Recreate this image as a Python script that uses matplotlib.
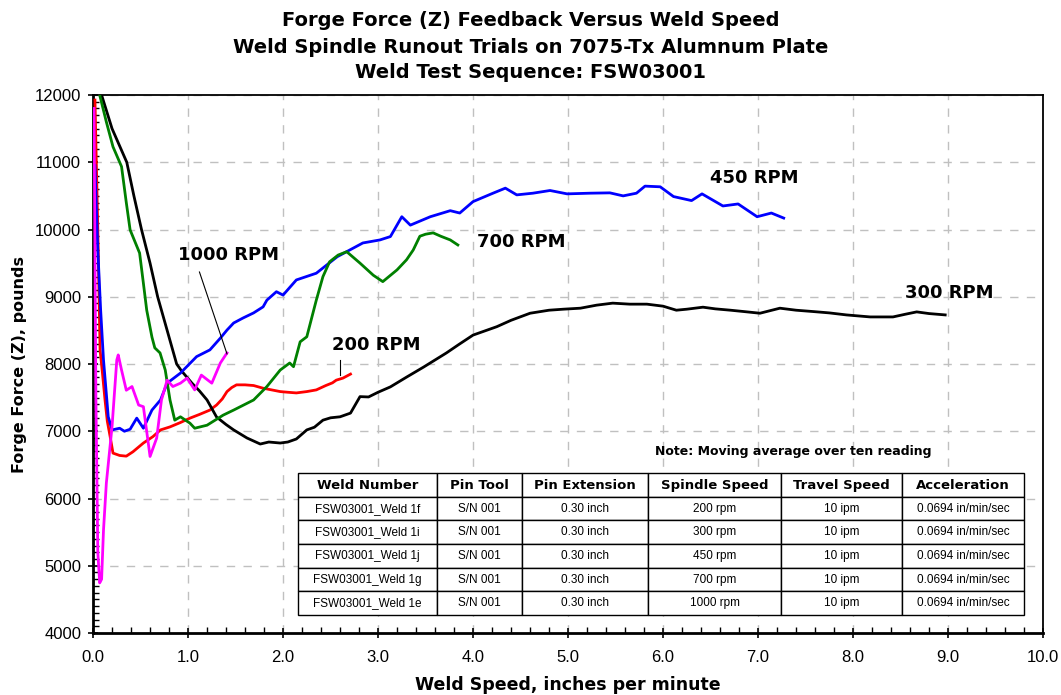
import numpy as np
import matplotlib.pyplot as plt
from matplotlib.ticker import MultipleLocator

plt.rcParams['font.family'] = ['Liberation Sans', 'DejaVu Sans']
WIDE = ['DejaVu Sans']

# 200 RPM (FSW03001_Weld 1f)
x_200 = [0.02, 0.05, 0.074, 0.10, 0.126, 0.15, 0.18, 0.21, 0.28, 0.35, 0.42, 0.53, 0.63, 0.71, 0.81,
         0.92, 1.02, 1.12, 1.23, 1.30, 1.36, 1.41, 1.46, 1.51, 1.60, 1.69, 1.79, 1.97, 2.05, 2.14, 2.25,
         2.35, 2.45, 2.52, 2.56, 2.63, 2.71]
y_200 = [11925, 10000, 8210, 7850, 7465, 7150, 6920, 6675, 6640, 6630, 6695, 6825, 6920, 7020, 7065,
         7130, 7195, 7250, 7315, 7390, 7480, 7590, 7650, 7690, 7690, 7680, 7640, 7590, 7580, 7570, 7590,
         7615, 7680, 7720, 7760, 7790, 7850]

# 300 RPM (FSW03001_Weld 1i)
x_300 = [0.09, 0.2, 0.355, 0.43, 0.51, 0.60, 0.68, 0.78, 0.88, 0.93, 1.04, 1.12, 1.20, 1.30, 1.40,
         1.48, 1.62, 1.76, 1.85, 1.97, 2.05, 2.14, 2.25, 2.33, 2.42, 2.50, 2.60, 2.71, 2.81, 2.90, 3.00,
         3.13, 3.30, 3.48, 3.60, 3.72, 3.85, 4.00, 4.25, 4.40, 4.60, 4.80, 4.95, 5.13, 5.30, 5.47, 5.65,
         5.83, 6.00, 6.14, 6.25, 6.42, 6.55, 6.71, 6.85, 7.02, 7.23, 7.40, 7.58, 7.75, 7.93, 8.18, 8.42,
         8.55, 8.67, 8.80, 8.97]
y_300 = [12000, 11500, 11000, 10500, 10000, 9500, 9000, 8500, 8000, 7900, 7717, 7600, 7465, 7212, 7100,
         7020, 6900, 6810, 6840, 6825, 6840, 6885, 7020, 7060, 7165, 7200, 7215, 7270, 7515, 7510, 7580,
         7660, 7805, 7955, 8060, 8165, 8290, 8430, 8555, 8650, 8755, 8800, 8815, 8830, 8875, 8905, 8890,
         8890, 8860, 8800, 8815, 8845, 8820, 8800, 8780, 8755, 8830, 8800, 8780, 8760, 8730, 8700, 8700,
         8740, 8775, 8750, 8730]

# 450 RPM (FSW03001_Weld 1j)
x_450 = [0.02, 0.05, 0.08, 0.11, 0.16, 0.20, 0.28, 0.33, 0.39, 0.46, 0.53, 0.62, 0.71, 0.78, 0.92,
         1.09, 1.23, 1.34, 1.41, 1.48, 1.58, 1.69, 1.79, 1.83, 1.93, 2.00, 2.14, 2.35, 2.57, 2.84, 3.02,
         3.13, 3.25, 3.34, 3.55, 3.76, 3.86, 4.00, 4.21, 4.34, 4.46, 4.63, 4.81, 4.99, 5.23, 5.44, 5.58,
         5.72, 5.81, 5.97, 6.11, 6.30, 6.41, 6.63, 6.79, 6.99, 7.14, 7.27]
y_450 = [10950, 9700, 8800, 8060, 7215, 7020, 7045, 7000, 7030, 7195, 7045, 7315, 7465, 7715, 7865,
         8110, 8210, 8385, 8505, 8610, 8685, 8760, 8850, 8950, 9075, 9025, 9250, 9350, 9595, 9800, 9845,
         9895, 10190, 10065, 10190, 10280, 10245, 10415, 10540, 10615, 10515, 10540, 10580, 10530, 10540,
         10545, 10500, 10540, 10645, 10635, 10490, 10430, 10530, 10350, 10380, 10190, 10245, 10170]

# 700 RPM (FSW03001_Weld 1g)
x_700 = [0.07, 0.14, 0.21, 0.30, 0.35, 0.39, 0.49, 0.53, 0.565, 0.62, 0.65, 0.705, 0.76, 0.81, 0.86,
         0.92, 1.02, 1.07, 1.20, 1.37, 1.48, 1.69, 1.83, 1.97, 2.07, 2.11, 2.18, 2.25, 2.35, 2.42, 2.49,
         2.58, 2.67, 2.81, 2.95, 3.05, 3.20, 3.30, 3.37, 3.44, 3.50, 3.58, 3.66, 3.76, 3.84]
y_700 = [12000, 11600, 11230, 10935, 10400, 9995, 9650, 9200, 8800, 8400, 8240, 8165, 7910, 7465, 7165,
         7215, 7120, 7045, 7090, 7240, 7315, 7465, 7665, 7910, 8015, 7960, 8330, 8405, 8950, 9300, 9520,
         9620, 9670, 9500, 9320, 9225, 9400, 9550, 9695, 9900, 9930, 9950, 9900, 9845, 9770]

# 1000 RPM (FSW03001_Weld 1e)
x_1000 = [0.01, 0.03, 0.05, 0.07, 0.09, 0.11, 0.14, 0.20, 0.25, 0.265, 0.30, 0.35, 0.41, 0.48, 0.53,
          0.60, 0.67, 0.72, 0.78, 0.84, 0.92, 0.99, 1.07, 1.14, 1.25, 1.34, 1.41]
y_1000 = [11800, 7500, 5200, 4745, 4800, 5530, 6230, 7070, 8060, 8135, 7910, 7610, 7665, 7390, 7365,
          6625, 6900, 7465, 7760, 7665, 7715, 7790, 7615, 7835, 7715, 8015, 8165]

series = [
    (x_200, y_200, 'red'),
    (x_300, y_300, 'black'),
    (x_450, y_450, 'blue'),
    (x_700, y_700, 'green'),
    (x_1000, y_1000, 'magenta'),
]

col_labels = ['Weld Number', 'Pin Tool', 'Pin Extension', 'Spindle Speed', 'Travel Speed', 'Acceleration']
weld_numbers = ['FSW03001_Weld 1f', 'FSW03001_Weld 1i', 'FSW03001_Weld 1j', 'FSW03001_Weld 1g', 'FSW03001_Weld 1e']
pin_tools = ['S/N 001'] * 5
pin_ext = ['0.30 inch'] * 5
spindle = ['200 rpm', '300 rpm', '450 rpm', '700 rpm', '1000 rpm']
travel = ['10 ipm'] * 5
accel = ['0.0694 in/min/sec'] * 5

fig = plt.figure(figsize=(10.61, 6.95), dpi=100)
ax = fig.add_axes([0.0877, 0.0892, 0.8954, 0.7741])

for xs, ys, c in series:
    ax.plot(xs, ys, color=c, lw=2.0, solid_joinstyle='round', zorder=3)

ax.set_xlim(0, 10)
ax.set_ylim(4000, 12000)
ax.xaxis.set_major_locator(MultipleLocator(1.0))
ax.xaxis.set_minor_locator(MultipleLocator(0.2))
ax.yaxis.set_major_locator(MultipleLocator(1000))
ax.yaxis.set_minor_locator(MultipleLocator(100))
ax.set_xticks(np.arange(0, 10.01, 1.0))
ax.set_xticklabels(['%.1f' % v for v in np.arange(0, 10.01, 1.0)])
ax.tick_params(which='major', direction='inout', length=7, width=1.2, labelsize=12)
ax.tick_params(axis='x', which='major', pad=9)
ax.tick_params(axis='y', which='major', pad=5)
ax.tick_params(which='minor', direction='in', length=4, width=1.0)
ax.grid(which='major', color='#c0c0c0', linestyle=(0, (6, 6)), linewidth=1.0, zorder=0)
for s in ax.spines.values():
    s.set_linewidth(1.3)
ax.spines['left'].set_linewidth(2.0)
ax.spines['bottom'].set_linewidth(2.0)

ax.set_ylabel('Forge Force (Z), pounds', fontsize=11.5, fontweight='bold', family=WIDE, labelpad=6)
ax.set_xlabel('Weld Speed, inches per minute', fontsize=12.5, fontweight='bold', family=WIDE, labelpad=8)

title_kw = dict(ha='center', va='center', fontsize=14, fontweight='bold', family=WIDE)
fig.text(0.5, 0.971, 'Forge Force (Z) Feedback Versus Weld Speed', **title_kw)
fig.text(0.5, 0.932, 'Weld Spindle Runout Trials on 7075-Tx Alumnum Plate', **title_kw)
fig.text(0.5, 0.895, 'Weld Test Sequence: FSW03001', **title_kw)

lab_kw = dict(fontsize=13, fontweight='bold', family=WIDE, va='center', ha='left', zorder=5)
ax.text(6.49, 10766, '450 RPM', **lab_kw)
ax.text(4.04, 9814, '700 RPM', **lab_kw)
ax.text(8.55, 9056, '300 RPM', **lab_kw)
ax.text(2.52, 8282, '200 RPM', **lab_kw)
ax.text(0.89, 9621, '1000 RPM', **lab_kw)
ax.plot([1.12, 1.41], [9368, 8150], color='black', lw=0.8, zorder=4)
ax.plot([2.60, 2.60], [8060, 7830], color='black', lw=0.8, zorder=4)

ax.text(7.37, 6706, 'Note: Moving average over ten reading', fontsize=9, fontweight='bold',
        family=WIDE, ha='center', va='center', zorder=5)

cells = [list(r) for r in zip(weld_numbers, pin_tools, pin_ext, spindle, travel, accel)]
widths = np.array([139, 85, 126, 133, 121, 122], dtype=float)
widths = widths / widths.sum()
tab = ax.table(cellText=cells, colLabels=col_labels, colWidths=list(widths), cellLoc='center',
               bbox=[0.216, 0.0335, 0.764, 0.2635], zorder=6)
tab.auto_set_font_size(False)
for (r, c), cell in tab.get_celld().items():
    cell.set_edgecolor('black')
    cell.set_linewidth(1.0)
    cell.set_facecolor('white')
    txt = cell.get_text()
    txt.set_va('center')
    if r == 0:
        txt.set_fontsize(9.5)
        txt.set_fontweight('bold')
        txt.set_family(WIDE)
    else:
        txt.set_fontsize(8.5)

fig.savefig('out.png', dpi=100)
